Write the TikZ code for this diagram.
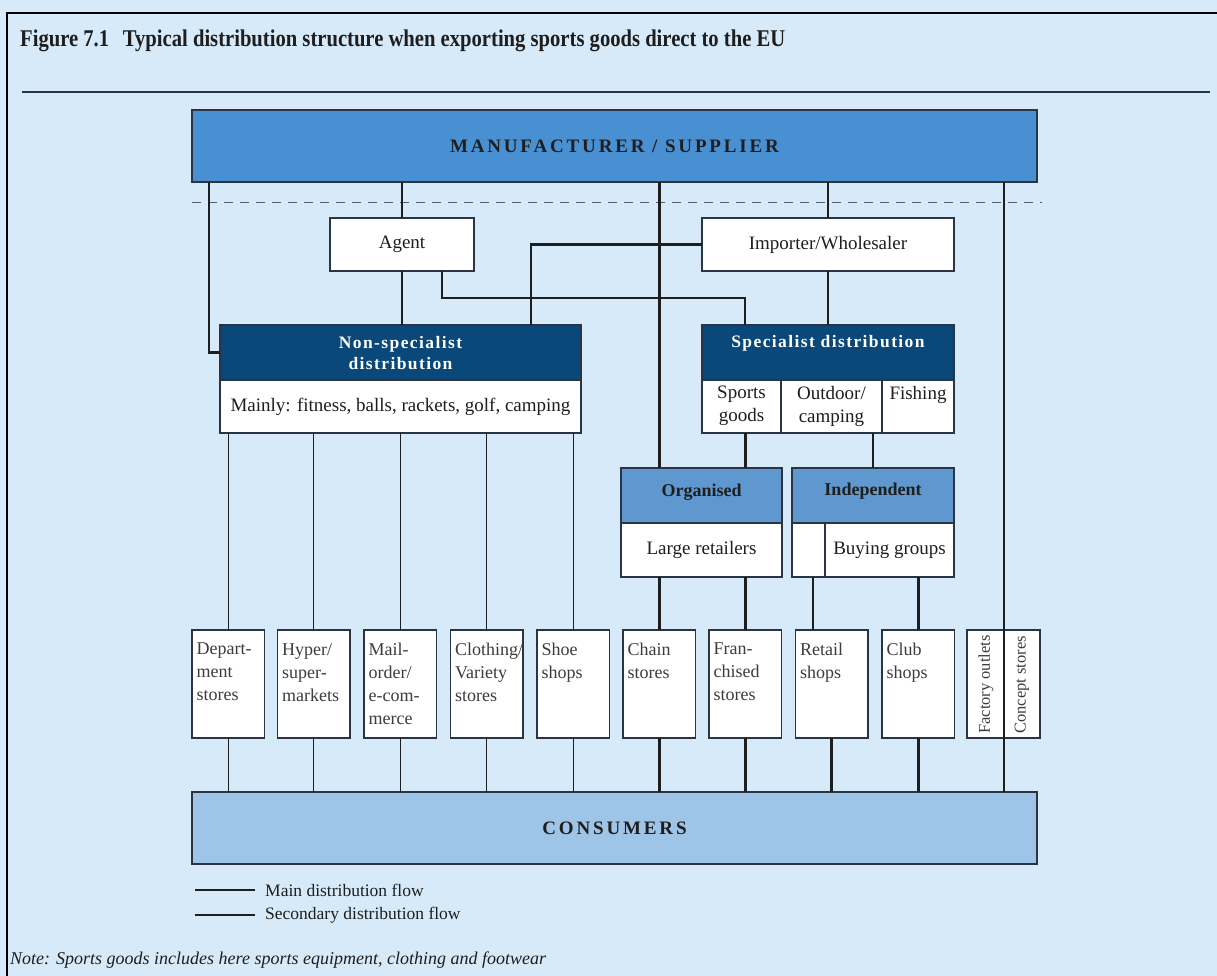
\documentclass[tikz,border=0pt]{standalone}
\usepackage{fontspec}
\usepackage{graphicx}
\setmainfont{Liberation Serif}
\newfontfamily\spacedfont[LetterSpace=15]{Liberation Serif}
\newfontfamily\headfont[LetterSpace=8]{Liberation Serif}
\definecolor{bgblue}{RGB}{214,234,250}
\definecolor{mfrblue}{RGB}{72,144,210}
\definecolor{navy}{RGB}{10,72,122}
\definecolor{midblue}{RGB}{94,152,206}
\definecolor{consblue}{RGB}{158,196,232}
\definecolor{edge}{RGB}{42,52,66}
\definecolor{ink}{RGB}{30,30,30}
\definecolor{softink}{RGB}{60,60,60}
\tikzset{
  box/.style={draw=edge, line width=1.4pt, fill=white, inner sep=0pt, outer sep=0pt},
  bigbar/.style={box, font=\spacedfont\bfseries\fontsize{19}{22}\selectfont, text=ink},
  navyhead/.style={box, fill=navy},
  bluehead/.style={box, fill=midblue},
  main/.style={draw=ink, line width=2.8pt},
  minor/.style={draw=ink, line width=1.4pt},
  boxtext/.style={font=\fontsize{19}{23}\selectfont, text=ink, inner sep=0pt},
  shoptext/.style={font=\fontsize{18}{23}\selectfont, text=softink, inner sep=0pt, align=left, anchor=north west},
  headtext/.style={font=\headfont\bfseries\fontsize{17.5}{21}\selectfont, inner sep=0pt, align=center, anchor=north},
}
\begin{document}
\begin{tikzpicture}[x=1pt, y=-1pt]
\useasboundingbox (0,0) rectangle (1217,976);
\fill[bgblue] (0,0) rectangle (1217,976);
% outer frame (top and left edges)
\draw[black, line width=1.6pt] (7,976) -- (7,13) -- (1217,13);

% heading and rule
\node[anchor=base west, inner sep=0pt, text=ink] (title) at (20,47)
  {\resizebox{765pt}{\height}{\bfseries\fontsize{24}{28}\selectfont Figure 7.1\hspace{16pt}Typical distribution structure when exporting sports goods direct to the EU}};
\draw[edge, line width=1.4pt] (22,92) -- (1210,92);

% top and bottom bars
\node[bigbar, fill=mfrblue, minimum width=845pt, minimum height=72pt] (mfr) at (614.5,146) {MANUFACTURER / SUPPLIER};
\node[bigbar, fill=consblue, minimum width=845pt, minimum height=72pt] (cons) at (614.5,828) {CONSUMERS};

% border of the EU market
\draw[edge!80, line width=1pt, dash pattern=on 9pt off 7pt] (192,203) -- (1042,203);

% intermediaries
\node[box, minimum width=144pt, minimum height=53pt, boxtext] (agent) at (402,244.5) {Agent};
\node[box, minimum width=252pt, minimum height=53pt, boxtext] (imp) at (828,244.5) {Importer/Wholesaler};

% non-specialist distribution
\node[navyhead, minimum width=361pt, minimum height=55pt] (nsh) at (400.5,352.5) {};
\node[headtext, text=white] at ([yshift=-11pt]nsh.north) {Non-specialist\\distribution};
\node[box, minimum width=361pt, minimum height=53pt, boxtext] (nsb) at (400.5,406.5) {Mainly: fitness, balls, rackets, golf, camping};

% specialist distribution
\node[navyhead, minimum width=252pt, minimum height=55pt] (sph) at (828,352.5) {};
\node[headtext, text=white] at ([yshift=-10pt]sph.north) {Specialist distribution};
\node[box, minimum width=79pt, minimum height=53pt] (sports) at (741.5,406.5) {};
\node[box, minimum width=101pt, minimum height=53pt] (outdoor) at (831.5,406.5) {};
\node[box, minimum width=72pt, minimum height=53pt] (fishing) at (918,406.5) {};
\node[boxtext, align=center, anchor=north] at ([yshift=-6pt]sports.north) {Sports\\goods};
\node[boxtext, align=center, anchor=north] at ([yshift=-6pt]outdoor.north) {Outdoor/\\camping};
\node[boxtext, align=center, anchor=north] at ([yshift=-6pt]fishing.north) {Fishing};

% organised and independent retail
\node[bluehead, minimum width=161pt, minimum height=55pt] (orgh) at (701.5,495.5) {};
\node[headtext, text=ink, font=\bfseries\fontsize{18}{21}\selectfont] at ([yshift=-16pt]orgh.north) {Organised};
\node[box, minimum width=161pt, minimum height=54pt, boxtext] (orgb) at (701.5,550) {Large retailers};
\node[bluehead, minimum width=162pt, minimum height=55pt] (indh) at (873,495.5) {};
\node[headtext, text=ink, font=\bfseries\fontsize{18}{21}\selectfont] at ([yshift=-15pt]indh.north) {Independent};
\node[box, minimum width=162pt, minimum height=54pt] (indb) at (873,550) {};
\draw[edge, line width=1.4pt] (825,523) coordinate (bgtop) -- (bgtop |- indb.south);
\node[boxtext] (bg) at (889.5,550) {Buying groups};

% outlets
\foreach \name/\left/\label in {
  dept/192/{Depart-\\ment\\stores},
  hyper/277.5/{Hyper/\\super-\\markets},
  mail/364/{Mail-\\order/\\e-com-\\merce},
  cloth/450.5/{Clothing/\\Variety\\stores},
  shoe/537/{Shoe\\shops},
  chain/623/{Chain\\stores},
  fran/709/{Fran-\\chised\\stores},
  retail/795.5/{Retail\\shops},
  club/882/{Club\\shops}} {
  \node[box, minimum width=72.5pt, minimum height=108pt, anchor=north west] (\name) at (\left,630) {};
  \node[shoptext] at ([xshift=4.5pt, yshift=-13pt]\name.north west) {\label};
}
\node[box, minimum width=73pt, minimum height=108pt, anchor=north west] (outlet) at (967,630) {};
\node[rotate=90, anchor=west, inner sep=0pt, text=softink, font=\fontsize{16.5}{20}\selectfont] at (986,734) {Factory outlets};
\node[rotate=90, anchor=west, inner sep=0pt, text=softink, font=\fontsize{16.5}{20}\selectfont] at (1022,734) {Concept stores};

% flow coordinates that sit off the box centres
\coordinate (leftx) at (209,0);
\coordinate (impx) at (531,0);
\coordinate (agx) at (442,0);
\coordinate (jog) at (745,298);
\coordinate (retx) at (813,0);
\coordinate (dirx) at (1004,0);

% secondary flows
\draw[minor] (agent.north |- mfr.south) -- (agent.north);
\draw[minor] (agent.south) -- (agent.south |- nsh.north);
\foreach \n in {dept,hyper,mail,cloth,shoe} {
  \draw[minor] (\n.north |- nsb.south) -- (\n.north);
  \draw[minor] (\n.south) -- (\n.south |- cons.north);
}
\draw[minor] (dirx |- mfr.south) -- (dirx |- cons.north);

% main flows
\draw[main] (leftx |- mfr.south) |- (nsh.west);
\draw[main] (chain.north |- mfr.south) -- (chain.north |- orgh.north);
\draw[main] (imp.north |- mfr.south) -- (imp.north);
\draw[main] (imp.south) -- (sph.north);
\draw[main] (imp.west) -| (impx |- nsh.north);
\draw[main] (agx |- agent.south) |- (jog) -- (jog |- sph.north);
\draw[main] (fran.north |- sports.south) -- (fran.north |- orgh.north);
\draw[main] (indh.north |- outdoor.south) -- (indh.north);
\draw[main] (chain.north |- orgb.south) -- (chain.north);
\draw[main] (fran.north |- orgb.south) -- (fran.north);
\draw[main] (retx |- indb.south) -- (retx |- retail.north);
\draw[main] (club.north |- indb.south) -- (club.north);
\foreach \n in {chain,fran,retail,club}
  \draw[main] (\n.south) -- (\n.south |- cons.north);

% key
\coordinate (keya) at (195,890);
\coordinate (keyb) at (195,915);
\draw[main, line width=2.6pt] (keya) -- ++(60,0) coordinate (keyae);
\draw[minor, line width=1.3pt] (keyb) -- ++(60,0) coordinate (keybe);
\node[anchor=west, inner sep=0pt, text=ink, font=\fontsize{17.5}{20}\selectfont] at ([xshift=10pt]keyae) {Main distribution flow};
\node[anchor=west, inner sep=0pt, text=ink, font=\fontsize{17.5}{20}\selectfont] at ([xshift=10pt]keybe) {Secondary distribution flow};

% footnote
\node[anchor=base west, inner sep=0pt, text=ink, font=\itshape\fontsize{18}{22}\selectfont] (note) at (10,964) {Note: Sports goods includes here sports equipment, clothing and footwear};
\end{tikzpicture}
\end{document}
